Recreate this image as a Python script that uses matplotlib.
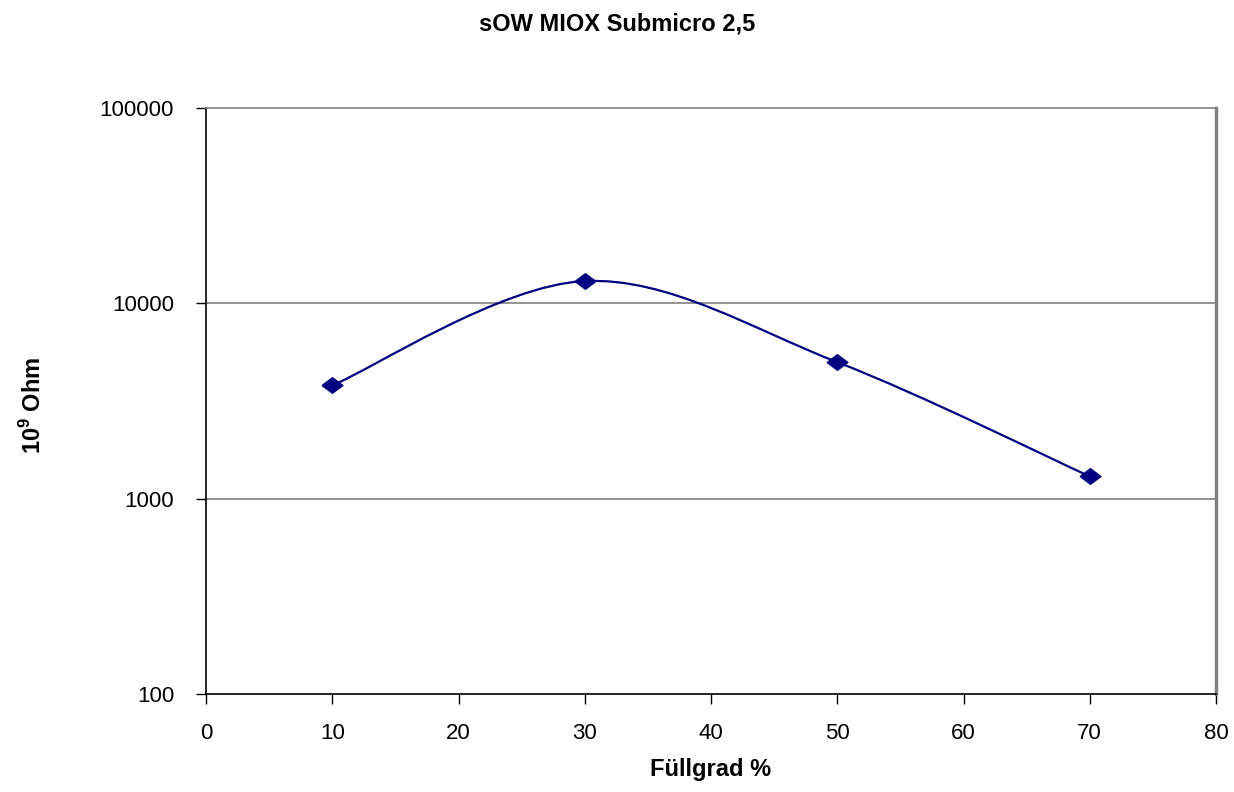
import numpy as np
import matplotlib
matplotlib.use('Agg')
import matplotlib.pyplot as plt
from matplotlib.path import Path
from matplotlib.patches import PathPatch

plt.rcParams['font.family'] = ['Liberation Sans', 'DejaVu Sans']
plt.rcParams['mathtext.fontset'] = 'custom'
plt.rcParams['mathtext.rm'] = 'Liberation Sans'
plt.rcParams['mathtext.bf'] = 'Liberation Sans:bold'

fuellgrad = [10, 30, 50, 70]
ohm = [3800, 13000, 5000, 1300]
x_ticks = [0, 10, 20, 30, 40, 50, 60, 70, 80]
y_ticks = [100, 1000, 10000, 100000]
y_labels = ['100', '1000', '10000', '100000']

navy = '#000080'
grey = '#808080'

fig = plt.figure(figsize=(12.34, 7.92), dpi=100)
ax = fig.add_axes([206/1234, 98/792, 1010/1234, 586/792])

# smoothed line like excel: bezier segments in (x, log y) space
px = np.array(fuellgrad, dtype=float)
py = np.log10(ohm)
n = len(px)
verts = [(px[0], 10**py[0])]
codes = [Path.MOVETO]
for i in range(n-1):
	a = max(i-1, 0)
	b = min(i+2, n-1)
	c1 = (px[i] + (px[i+1]-px[a])/6, py[i] + (py[i+1]-py[a])/6)
	c2 = (px[i+1] - (px[b]-px[i])/6, py[i+1] - (py[b]-py[i])/6)
	verts += [(c1[0], 10**c1[1]), (c2[0], 10**c2[1]), (px[i+1], 10**py[i+1])]
	codes += [Path.CURVE4]*3
ax.add_patch(PathPatch(Path(verts, codes), facecolor='none', edgecolor=navy, lw=1.6, zorder=3))

diamond = [(-1, 0), (0, 0.75), (1, 0), (0, -0.75), (-1, 0)]
ax.plot(fuellgrad, ohm, linestyle='none', marker=diamond, markersize=15,
	color=navy, markeredgecolor=navy, zorder=4)

ax.set_yscale('log')
ax.set_xlim(0, 80)
ax.set_ylim(100, 100000)
ax.set_xticks(x_ticks)
ax.set_xticklabels([str(v) for v in x_ticks])
ax.set_yticks(y_ticks)
ax.set_yticklabels(y_labels)
ax.yaxis.set_minor_locator(matplotlib.ticker.NullLocator())
ax.tick_params(axis='both', direction='out', length=7, width=1, colors='black', labelsize=16)
ax.tick_params(axis='y', pad=16)
ax.tick_params(axis='x', pad=14)

for v in [1000, 10000]:
	ax.axhline(v, color=grey, lw=1.2, zorder=1)

ax.spines['top'].set_color(grey)
ax.spines['top'].set_linewidth(1.2)
ax.spines['right'].set_color(grey)
ax.spines['right'].set_linewidth(2.5)
ax.spines['left'].set_linewidth(1.2)
ax.spines['bottom'].set_linewidth(1.2)

fig.text(0.5, 0.970, 'sOW MIOX Submicro 2,5', ha='center', va='center', fontsize=17, fontweight='bold')
fig.text(711/1234, 0.028, 'Füllgrad %', ha='center', va='center', fontsize=17, fontweight='bold')
fig.text(33/1234, 1-405/792, r'10$^{\mathbf{9}}$ Ohm', ha='center', va='center', rotation=90,
	fontsize=17, fontweight='bold')

plt.savefig('out.png', dpi=100)
